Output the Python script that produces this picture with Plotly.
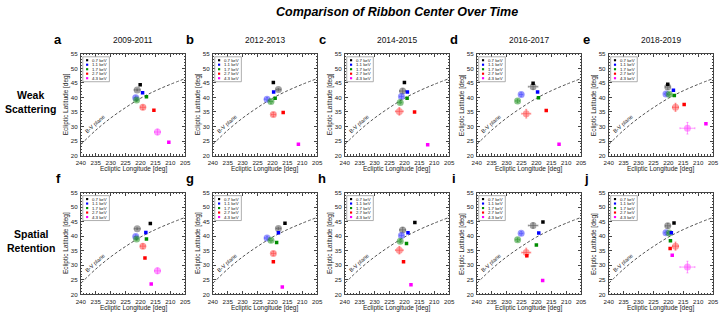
import plotly.graph_objects as go

W, H = 725, 314

energies = ["0.7 keV", "1.1 keV", "1.7 keV", "2.7 keV", "4.3 keV"]
periods = ["2009-2011", "2012-2013", "2014-2015", "2016-2017", "2018-2019"]
rows = ["Weak<br>Scattering", "Spatial<br>Retention"]
letters = [["a", "b", "c", "d", "e"], ["f", "g", "h", "i", "j"]]

# observed ribbon centers (shared by both rows)
obs_lon = [
    [221.1, 221.6, 221.3, 219.2, 214.3],
    [218.0, 221.8, 220.5, 219.7, None],
    [220.6, 221.0, 221.4, 221.7, None],
    [221.1, 225.1, 226.3, 223.4, None],
    [220.2, 220.8, 219.7, 217.6, 213.6],
]
obs_lat = [
    [42.6, 39.9, 39.1, 36.6, 28.1],
    [42.7, 39.4, 38.6, 34.1, None],
    [42.2, 40.3, 38.3, 35.2, None],
    [43.7, 41.0, 38.8, 34.4, None],
    [43.6, 41.2, 41.1, 36.6, 29.4],
]
obs_lon_err = [
    [1.0, 0.6, 0.5, 0.8, 1.0],
    [0.8, 0.8, 0.6, 0.7, None],
    [1.0, 0.6, 0.5, 1.3, None],
    [1.6, 0.6, 0.6, 1.5, None],
    [0.8, 0.6, 0.6, 1.0, 2.5],
]
obs_lat_err = [
    [0.3, 0.6, 0.5, 0.8, 1.0],
    [0.4, 0.6, 0.6, 0.7, None],
    [0.8, 0.6, 0.5, 1.3, None],
    [0.9, 0.6, 0.6, 1.5, None],
    [0.8, 0.6, 0.6, 1.4, 2.0],
]

# model: weak scattering
ws_lon = [
    [220.1, 219.3, 218.0, 215.5, 210.5],
    [219.7, 219.6, 219.1, 216.4, 211.3],
    [220.0, 219.0, 219.1, 216.6, 212.2],
    [221.1, 219.6, 219.3, 216.7, 212.4],
    [220.2, 218.3, 218.0, 214.7, 207.4],
]
ws_lat = [
    [44.4, 41.6, 40.2, 35.6, 24.6],
    [45.1, 41.9, 39.7, 34.8, 23.9],
    [45.1, 41.9, 39.7, 35.0, 23.75],
    [44.9, 41.9, 39.9, 35.5, 23.9],
    [44.5, 42.5, 40.7, 37.6, 30.9],
]
# model: spatial retention
sr_lon = [
    [216.7, 218.2, 218.0, 218.5, 216.4],
    [215.8, 218.0, 218.6, 219.7, 216.7],
    [216.5, 218.8, 219.3, 220.3, 217.8],
    [217.8, 219.2, 220.0, 223.2, 217.9],
    [218.1, 219.0, 219.3, 219.4, 218.7],
]
sr_lat = [
    [44.4, 41.3, 39.1, 32.5, 23.6],
    [44.5, 41.2, 37.9, 31.2, 22.5],
    [44.7, 41.2, 37.5, 31.2, 23.3],
    [44.9, 41.1, 37.0, 33.3, 24.8],
    [44.6, 41.2, 38.5, 35.8, 33.5],
]

# B-V plane curve
plane_lon = [240, 235, 230, 225, 220, 215, 210, 205]
plane_lat = [23.8, 28.7, 32.9, 36.5, 39.7, 42.3, 44.5, 46.5]

x_ticks = [240, 235, 230, 225, 220, 215, 210, 205]
y_ticks = [20, 25, 30, 35, 40, 45, 50, 55]

dark_colors = ["#000000", "#0000ff", "#008c00", "#ff0000", "#ff00ff"]
light_colors = ["rgba(90,90,90,0.55)", "rgba(70,70,255,0.55)", "rgba(40,150,40,0.55)",
                "rgba(255,60,60,0.5)", "rgba(255,60,255,0.5)"]

col_left = [77, 211, 345, 479, 613]
pw = 106
row_top = [51, 193]
ph = 104

def xp(px):
    return px / W

def yp(py):
    return 1 - py / H

fig = go.Figure()
annotations = []
shapes = []
layout_axes = {}

axis_color = "#444444"
FONT = "Liberation Sans, Arial"
tick_font = dict(family=FONT, size=6.2, color="#222")

for r in range(2):
    model_lon = ws_lon if r == 0 else sr_lon
    model_lat = ws_lat if r == 0 else sr_lat
    for c in range(5):
        k = r * 5 + c + 1
        xa = "x" if k == 1 else f"x{k}"
        ya = "y" if k == 1 else f"y{k}"
        L = col_left[c]
        T = row_top[r]
        common = dict(
            ticks="inside", ticklen=3, tickwidth=0.7, tickcolor=axis_color,
            minor=dict(ticks="inside", dtick=1, ticklen=1.5, tickwidth=0.6, tickcolor=axis_color),
            mirror="allticks", showline=True, linecolor=axis_color, linewidth=0.8,
            showgrid=False, zeroline=False, tickfont=tick_font, ticklabelstandoff=1,
        )
        layout_axes["xaxis" if k == 1 else f"xaxis{k}"] = dict(
            domain=[xp(L), xp(L + pw)], anchor=ya, range=[240, 205],
            tickvals=x_ticks, ticktext=[str(v) for v in x_ticks], **common)
        layout_axes["yaxis" if k == 1 else f"yaxis{k}"] = dict(
            domain=[yp(T + ph), yp(T)], anchor=xa, range=[20, 55],
            tickvals=y_ticks, ticktext=[str(v) for v in y_ticks], **common)
        # plane curve
        fig.add_trace(go.Scatter(x=plane_lon, y=plane_lat, mode="lines", xaxis=xa, yaxis=ya,
                                 line=dict(color="#555555", width=1, dash="3px,2px", shape="spline"),
                                 showlegend=False, hoverinfo="skip"))
        # observations
        for e in range(5):
            if obs_lon[c][e] is None:
                continue
            fig.add_trace(go.Scatter(
                x=[obs_lon[c][e]], y=[obs_lat[c][e]], mode="markers", xaxis=xa, yaxis=ya,
                marker=dict(symbol="circle", size=7, color=light_colors[e], line=dict(width=0)),
                error_x=dict(type="data", array=[obs_lon_err[c][e]], color=light_colors[e], thickness=1, width=1),
                error_y=dict(type="data", array=[obs_lat_err[c][e]], color=light_colors[e], thickness=1, width=1),
                showlegend=False, name=energies[e]))
        # model
        for e in range(5):
            fig.add_trace(go.Scatter(
                x=[model_lon[c][e]], y=[model_lat[c][e]], mode="markers", xaxis=xa, yaxis=ya,
                marker=dict(symbol="square", size=3.5, color=dark_colors[e], line=dict(width=0)),
                showlegend=False, name=energies[e]))
        # legend box
        shapes.append(dict(type="rect", xref="paper", yref="paper",
                           x0=xp(L + 2), x1=xp(L + 29), y0=yp(T + 28.5), y1=yp(T + 3),
                           line=dict(color="#999999", width=0.8), fillcolor="white", layer="above"))
        for e in range(5):
            yy = T + 6.5 + e * 4.6
            shapes.append(dict(type="rect", xref="paper", yref="paper",
                               x0=xp(L + 5.3), x1=xp(L + 7.5), y0=yp(yy + 1.1), y1=yp(yy - 1.1),
                               line=dict(width=0), fillcolor=dark_colors[e], layer="above"))
            annotations.append(dict(text=energies[e], xref="paper", yref="paper",
                                    x=xp(L + 9), y=yp(yy), xanchor="left", yanchor="middle",
                                    showarrow=False, font=dict(family=FONT, size=4.3, color="#111")))
        # plane label
        annotations.append(dict(text="B-V plane", xref=xa, yref=ya, x=235.3, y=30.8,
                                textangle=-42, showarrow=False,
                                font=dict(family=FONT, size=5.5, color="#222")))
        # axis titles
        annotations.append(dict(text="Ecliptic Latitude [deg]", xref="paper", yref="paper",
                                x=xp(L - 15.5), y=yp(T + ph / 2), textangle=-90, showarrow=False,
                                xanchor="center", yanchor="middle",
                                font=dict(family=FONT, size=6.5, color="#222")))
        annotations.append(dict(text="Ecliptic Longitude [deg]", xref="paper", yref="paper",
                                x=xp(L + pw / 2), y=yp(T + ph + 13.5), showarrow=False,
                                xanchor="center", yanchor="middle",
                                font=dict(family=FONT, size=6.5, color="#222")))
        # panel letter
        annotations.append(dict(text=f"<b>{letters[r][c]}</b>", xref="paper", yref="paper",
                                x=xp(L - 23), y=yp(T - 15), showarrow=False,
                                xanchor="center", yanchor="middle",
                                font=dict(family=FONT, size=13, color="#000")))
        if r == 0:
            annotations.append(dict(text=periods[c], xref="paper", yref="paper",
                                    x=xp(L + pw / 2), y=yp(36.5), showarrow=False,
                                    xanchor="center", yanchor="middle",
                                    font=dict(family=FONT, size=8.4, color="#111")))

for r in range(2):
    annotations.append(dict(text=f"<b>{rows[r]}</b>", xref="paper", yref="paper",
                            x=xp(26), y=yp(row_top[r] + 49), showarrow=False,
                            xanchor="center", yanchor="middle",
                            font=dict(family=FONT, size=10.5, color="#000")))

annotations.append(dict(text="<b><i>Comparison of Ribbon Center Over Time</i></b>",
                        xref="paper", yref="paper", x=xp(398), y=yp(8), showarrow=False,
                        xanchor="center", yanchor="middle",
                        font=dict(family=FONT, size=12.5, color="#000")))

fig.update_layout(
    width=W, height=H, margin=dict(l=0, r=0, t=0, b=0),
    paper_bgcolor="white", plot_bgcolor="white",
    annotations=annotations, shapes=shapes, showlegend=False,
    **layout_axes,
)

fig.write_html("out.html", config={"displayModeBar": False},
               post_script="document.body.style.margin='0';document.body.style.padding='0';")
